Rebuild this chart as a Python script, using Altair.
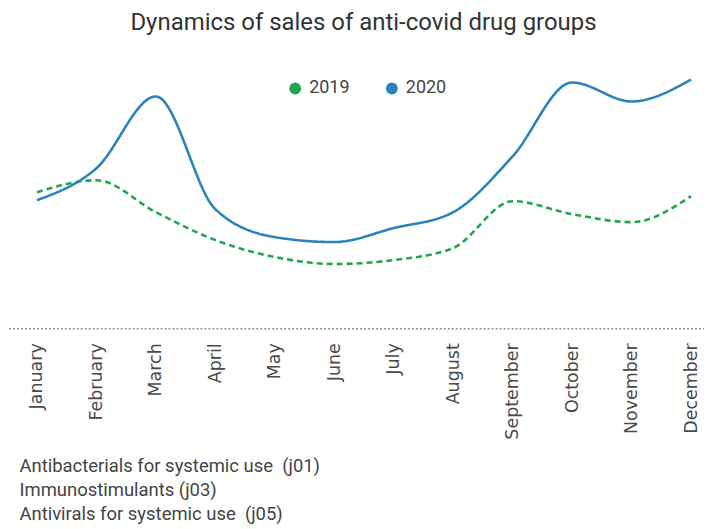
import altair as alt
import pandas as pd

months = ["January", "February", "March", "April", "May", "June", "July",
          "August", "September", "October", "November", "December"]
sales_2019 = [137, 149, 117, 89, 72, 65, 69, 81, 128, 115, 107, 133]
sales_2020 = [129, 161, 233, 120, 92, 87, 101, 117, 173, 247, 228, 250]
years = ["2019", "2020"]
colors = ["#22a64f", "#2b83ba"]
notes = ["Antibacterials for systemic use\u00a0 (j01)",
         "Immunostimulants (j03)",
         "Antivirals for systemic use\u00a0 (j05)"]

rows = []
for m, v in zip(months, sales_2019):
    rows.append({"month": m, "sales": v, "year": "2019"})
for m, v in zip(months, sales_2020):
    rows.append({"month": m, "sales": v, "year": "2020"})
df = pd.DataFrame(rows)

W, H = 697, 260

x_enc = alt.X("month:N", sort=months,
              scale=alt.Scale(type="point", range=[28, 684], padding=0),
              axis=alt.Axis(
                  title=notes, labelAngle=-90, labelAlign="right", labelBaseline="middle",
                  labelPadding=14, ticks=False, grid=False, domain=False,
                  labelFont="DejaVu Sans", labelFontSize=17.5, labelColor="#4a4a4a",
                  titleFont="Roboto", titleFontSize=18.5, titleFontWeight="normal",
                  titleColor="#444444", titleAnchor="start", titleAlign="left",
                  titleBaseline="top", titleX=10, titleY=128, titleLineHeight=24))
y_enc = alt.Y("sales:Q", scale=alt.Scale(domain=[0, 260]), axis=None)
color_scale = alt.Scale(domain=years, range=colors)

base = alt.Chart(df)

lines = base.mark_line(interpolate="monotone", strokeWidth=2.6).encode(
    x=x_enc, y=y_enc,
    color=alt.Color("year:N", scale=color_scale, legend=None),
    strokeDash=alt.StrokeDash("year:N", scale=alt.Scale(domain=years, range=[[6, 4], [1, 0]]),
                              legend=None),
)

legend_pts = base.mark_circle(size=0, opacity=1).encode(
    x=x_enc, y=y_enc,
    color=alt.Color("year:N", scale=color_scale,
                    legend=alt.Legend(title=None, orient="none", direction="horizontal",
                                      legendX=278, legendY=10, symbolType="circle",
                                      symbolSize=140, symbolOpacity=1, labelOffset=5,
                                      labelFont="Roboto", labelFontSize=18,
                                      labelColor="#444444", columnPadding=33)),
)

baseline = alt.Chart(pd.DataFrame({"y0": [0]})).mark_rule(
    color="#555555", strokeDash=[2, 2], strokeWidth=1
).encode(x=alt.value(0), x2=alt.value(W), y=alt.value(H))

chart = alt.layer(baseline, lines, legend_pts).resolve_legend(
    color="independent"
).properties(
    width=W, height=H, padding={"top": 2, "left": 0, "right": 0, "bottom": 0},
    title=alt.TitleParams("Dynamics of sales of anti-covid drug groups", font="Roboto",
                          fontSize=24, fontWeight="normal", color="#333333", offset=35,
                          dx=7),
).configure_view(stroke=None)

chart.save("out.html", embed_options={"renderer": "svg", "actions": False})
